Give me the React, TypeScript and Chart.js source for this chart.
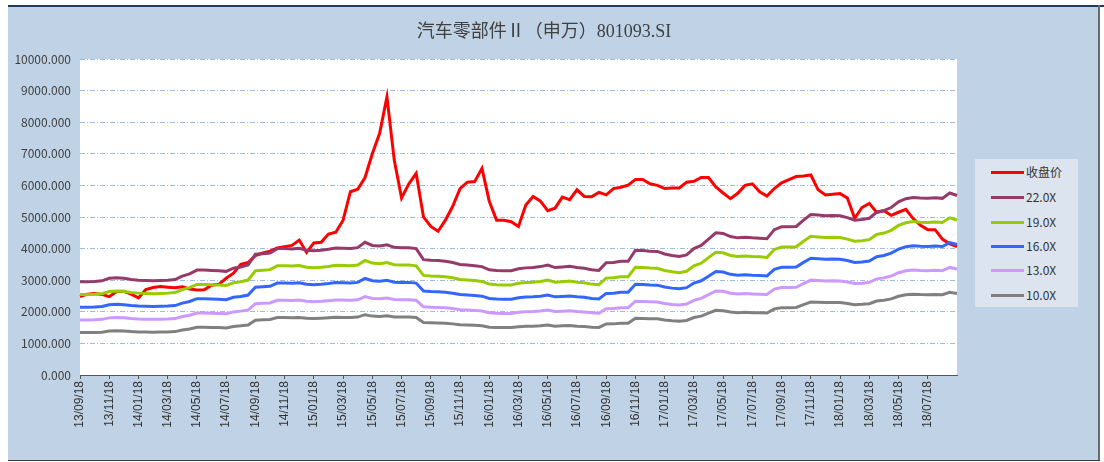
import React, { useEffect, useRef } from 'react';
import { Chart, registerables } from 'chart.js';

Chart.register(...registerables);

const tickLabels = [
  '13/09/18', '13/11/18', '14/01/18', '14/03/18', '14/05/18', '14/07/18', '14/09/18', '14/11/18',
  '15/01/18', '15/03/18', '15/05/18', '15/07/18', '15/09/18', '15/11/18', '16/01/18', '16/03/18',
  '16/05/18', '16/07/18', '16/09/18', '16/11/18', '17/01/18', '17/03/18', '17/05/18', '17/07/18',
  '17/09/18', '17/11/18', '18/01/18', '18/03/18', '18/05/18', '18/07/18',
];

// semi-monthly observation dates from 2013-09-18
const categories: string[] = Array.from({ length: 121 }, (_, i) => {
  const base = 2013 * 12 + 8;
  const mIdx = i % 2 === 0 ? base + i / 2 : base + (i + 1) / 2;
  const y = Math.floor(mIdx / 12) % 100;
  const m = (mIdx % 12) + 1;
  const d = i % 2 === 0 ? '18' : '03';
  return `${String(y).padStart(2, '0')}/${String(m).padStart(2, '0')}/${d}`;
});

const seriesNames = ['收盘价', '22.0X', '19.0X', '16.0X', '13.0X', '10.0X'];
const seriesColors = ['#FF0000', '#953A69', '#99CC00', '#3366FF', '#CC99FF', '#808080'];

const closePrice = [
  2480, 2560, 2580, 2550, 2480, 2640, 2650, 2560, 2440, 2700,
  2770, 2800, 2780, 2760, 2790, 2720, 2690, 2700, 2840, 2870,
  3060, 3220, 3500, 3560, 3780, 3860, 3920, 4020, 4060, 4100,
  4270, 3880, 4180, 4200, 4460, 4520, 4900, 5800, 5880, 6250,
  7000, 7650, 8800, 6800, 5600, 6050, 6380, 5000, 4700, 4550,
  4900, 5340, 5900, 6100, 6120, 6540, 5500, 4900, 4900, 4850,
  4700, 5380, 5650, 5500, 5200, 5280, 5630, 5550, 5860, 5650,
  5640, 5780, 5700, 5900, 5940, 6010, 6190, 6190, 6050, 6000,
  5900, 5920, 5920, 6100, 6130, 6250, 6250, 5950, 5760, 5580,
  5750, 6000, 6050, 5800, 5660, 5900, 6080, 6180, 6280, 6300,
  6330, 5860, 5700, 5720, 5740, 5600, 4960, 5300, 5430, 5150,
  5200, 5050, 5150, 5240, 4950, 4740, 4600, 4600, 4300, 4150,
  4060,
];

const pe22 = [
  2950, 2950, 2960, 2980, 3060, 3080, 3060, 3020, 3000, 2990,
  2980, 2990, 3000, 3020, 3130, 3200, 3320, 3320, 3310, 3300,
  3280, 3380, 3420, 3480, 3820, 3840, 3860, 4000, 4000, 3990,
  4010, 3950, 3930, 3950, 3980, 4020, 4010, 4000, 4030, 4200,
  4100, 4080, 4120, 4040, 4030, 4030, 4000, 3650, 3630, 3620,
  3600, 3560, 3500, 3480, 3460, 3430, 3330, 3310, 3300, 3300,
  3360, 3390, 3400, 3430, 3480, 3400, 3420, 3440, 3400, 3380,
  3330, 3310, 3550, 3560, 3600, 3600, 3950, 3940, 3920, 3910,
  3830, 3780, 3750, 3800, 4000, 4100, 4300, 4500, 4480, 4380,
  4340, 4360, 4340, 4330, 4310, 4600, 4690, 4690, 4700, 4900,
  5080, 5060, 5040, 5050, 5040, 4980, 4900, 4920, 4960, 5150,
  5200, 5300, 5480, 5580, 5620, 5600, 5590, 5610, 5590, 5760,
  5680,
];

const pe19 = [
  2548, 2548, 2556, 2574, 2643, 2660, 2643, 2608, 2591, 2582,
  2574, 2582, 2591, 2608, 2703, 2764, 2867, 2867, 2859, 2850,
  2833, 2919, 2954, 3005, 3299, 3316, 3334, 3455, 3455, 3446,
  3463, 3411, 3394, 3411, 3437, 3472, 3463, 3455, 3480, 3627,
  3541, 3524, 3558, 3489, 3480, 3480, 3455, 3152, 3135, 3126,
  3109, 3075, 3023, 3005, 2988, 2962, 2876, 2859, 2850, 2850,
  2902, 2928, 2936, 2962, 3005, 2936, 2954, 2971, 2936, 2919,
  2876, 2859, 3066, 3075, 3109, 3109, 3411, 3403, 3385, 3377,
  3308, 3265, 3239, 3282, 3455, 3541, 3714, 3886, 3869, 3783,
  3748, 3765, 3748, 3740, 3722, 3973, 4050, 4050, 4059, 4232,
  4387, 4370, 4353, 4361, 4353, 4301, 4232, 4249, 4284, 4448,
  4491, 4577, 4733, 4819, 4854, 4836, 4828, 4845, 4828, 4975,
  4905,
];

const pe16 = [
  2145, 2145, 2153, 2167, 2225, 2240, 2225, 2196, 2182, 2175,
  2167, 2175, 2182, 2196, 2276, 2327, 2415, 2415, 2407, 2400,
  2385, 2458, 2487, 2531, 2778, 2793, 2807, 2909, 2909, 2902,
  2916, 2873, 2858, 2873, 2895, 2924, 2916, 2909, 2931, 3055,
  2982, 2967, 2996, 2938, 2931, 2931, 2909, 2655, 2640, 2633,
  2618, 2589, 2545, 2531, 2516, 2495, 2422, 2407, 2400, 2400,
  2444, 2465, 2473, 2495, 2531, 2473, 2487, 2502, 2473, 2458,
  2422, 2407, 2582, 2589, 2618, 2618, 2873, 2865, 2851, 2844,
  2785, 2749, 2727, 2764, 2909, 2982, 3127, 3273, 3258, 3185,
  3156, 3171, 3156, 3149, 3135, 3345, 3411, 3411, 3418, 3564,
  3695, 3680, 3665, 3673, 3665, 3622, 3564, 3578, 3607, 3745,
  3782, 3855, 3985, 4058, 4087, 4073, 4065, 4080, 4065, 4189,
  4131,
];

const pe13 = [
  1743, 1743, 1749, 1761, 1808, 1820, 1808, 1785, 1773, 1767,
  1761, 1767, 1773, 1785, 1850, 1891, 1962, 1962, 1956, 1950,
  1938, 1997, 2021, 2056, 2257, 2269, 2281, 2364, 2364, 2358,
  2370, 2334, 2322, 2334, 2352, 2375, 2370, 2364, 2381, 2482,
  2423, 2411, 2435, 2387, 2381, 2381, 2364, 2157, 2145, 2139,
  2127, 2104, 2068, 2056, 2045, 2027, 1968, 1956, 1950, 1950,
  1985, 2003, 2009, 2027, 2056, 2009, 2021, 2033, 2009, 1997,
  1968, 1956, 2098, 2104, 2127, 2127, 2334, 2328, 2316, 2310,
  2263, 2234, 2216, 2245, 2364, 2423, 2541, 2659, 2647, 2588,
  2565, 2576, 2565, 2559, 2547, 2718, 2771, 2771, 2777, 2895,
  3002, 2990, 2978, 2984, 2978, 2943, 2895, 2907, 2931, 3043,
  3073, 3132, 3238, 3297, 3321, 3309, 3303, 3315, 3303, 3404,
  3356,
];

const pe10 = [
  1341, 1341, 1345, 1355, 1391, 1400, 1391, 1373, 1364, 1359,
  1355, 1359, 1364, 1373, 1423, 1455, 1509, 1509, 1505, 1500,
  1491, 1536, 1555, 1582, 1736, 1745, 1755, 1818, 1818, 1814,
  1823, 1795, 1786, 1795, 1809, 1827, 1823, 1818, 1832, 1909,
  1864, 1855, 1873, 1836, 1832, 1832, 1818, 1659, 1650, 1645,
  1636, 1618, 1591, 1582, 1573, 1559, 1514, 1505, 1500, 1500,
  1527, 1541, 1545, 1559, 1582, 1545, 1555, 1564, 1545, 1536,
  1514, 1505, 1614, 1618, 1636, 1636, 1795, 1791, 1782, 1777,
  1741, 1718, 1705, 1727, 1818, 1864, 1955, 2045, 2036, 1991,
  1973, 1982, 1973, 1968, 1959, 2091, 2132, 2132, 2136, 2227,
  2309, 2300, 2291, 2295, 2291, 2264, 2227, 2236, 2255, 2341,
  2364, 2409, 2491, 2536, 2555, 2545, 2541, 2550, 2541, 2618,
  2582,
];

const yTicks = [0, 1000, 2000, 3000, 4000, 5000, 6000, 7000, 8000, 9000, 10000];

const allSeries = [closePrice, pe22, pe19, pe16, pe13, pe10];

const CJK = '"Noto Sans CJK SC", "Noto Sans", sans-serif';

const plotBackground = {
  id: 'plotBackground',
  beforeDraw(chart: any) {
    const { ctx, chartArea } = chart;
    if (!chartArea) return;
    ctx.save();
    ctx.fillStyle = '#FFFFFF';
    ctx.fillRect(chartArea.left, chartArea.top, chartArea.right - chartArea.left, chartArea.bottom - chartArea.top);
    ctx.restore();
  },
};

export default function App() {
  const ref = useRef<HTMLCanvasElement>(null);

  useEffect(() => {
    if (!ref.current) return;
    const isTick = (i: number) => i % 4 === 0 && i / 4 < tickLabels.length;
    const chart = new Chart(ref.current, {
      type: 'line',
      data: {
        labels: categories,
        datasets: allSeries.map((d, k) => ({
          label: seriesNames[k],
          data: d,
          borderColor: seriesColors[k],
          backgroundColor: seriesColors[k],
          borderWidth: 3,
          pointRadius: 0,
          tension: 0,
          fill: false,
          order: k === 0 ? 1 : 0,
        })),
      },
      plugins: [plotBackground],
      options: {
        animation: false,
        responsive: false,
        maintainAspectRatio: false,
        layout: { padding: { left: 0, top: 54, right: 143, bottom: 0 } },
        plugins: {
          legend: { display: false },
          title: { display: false },
          tooltip: { enabled: false },
        },
        scales: {
          x: {
            type: 'category',
            offset: false,
            grid: {
              display: true,
              drawOnChartArea: false,
              drawTicks: true,
              tickLength: 4,
              tickColor: (ctx: any) => (isTick(ctx.index) ? '#555555' : 'rgba(0,0,0,0)'),
            },
            border: { display: true, color: '#555555', width: 1 },
            ticks: {
              autoSkip: false,
              maxRotation: 90,
              minRotation: 90,
              padding: 2,
              color: '#333333',
              font: { family: '"Liberation Sans", Arial, sans-serif', size: 12 },
              callback: (_v: any, i: number) => (isTick(i) ? tickLabels[i / 4] : ''),
            },
            afterFit: (s: any) => {
              s.height = 86;
            },
          },
          y: {
            min: yTicks[0],
            max: yTicks[yTicks.length - 1],
            afterBuildTicks: (s: any) => {
              s.ticks = yTicks.map((v) => ({ value: v }));
            },
            grid: { color: '#9FBBE0', lineWidth: 1, drawTicks: false },
            border: { display: false, dash: [5, 2, 1, 2] },
            ticks: {
              padding: 9,
              color: '#404040',
              font: { family: CJK, size: 12 },
              callback: (v: any) => Number(v).toFixed(3),
            },
            afterFit: (s: any) => {
              s.width = 72;
            },
          },
        },
      },
    } as any);
    return () => chart.destroy();
  }, []);

  const legendRowTop = [13, 38, 63, 87, 111, 136];

  return (
    <div
      style={{
        position: 'absolute',
        left: 8,
        top: 5,
        width: 1092,
        height: 456,
        background: '#C0D3E6',
        overflow: 'visible',
      }}
    >
      <canvas
        ref={ref}
        width={1092}
        height={456}
        style={{ position: 'absolute', left: 0, top: 0, display: 'block', width: 1092, height: 456 }}
      />
      <div
        style={{
          position: 'absolute',
          left: 0,
          top: 14,
          width: 1072,
          textAlign: 'center',
          fontFamily: '"Liberation Serif", "Noto Sans CJK SC", serif',
          fontSize: 18,
          lineHeight: '24px',
          color: '#404040',
          whiteSpace: 'nowrap',
        }}
      >
        汽车零部件Ⅱ（申万）801093.SI
      </div>
      <div
        style={{
          position: 'absolute',
          left: 967,
          top: 154,
          width: 103,
          height: 148,
          background: '#DCE5EF',
        }}
      >
        {seriesNames.map((n, k) => (
          <div key={n} style={{ position: 'absolute', left: 0, top: legendRowTop[k] - 9, height: 18, width: 103 }}>
            <div
              style={{
                position: 'absolute',
                left: 16,
                top: 8,
                width: 33,
                height: 3,
                background: seriesColors[k],
              }}
            />
            <div
              style={{
                position: 'absolute',
                left: 51,
                top: 0,
                lineHeight: '18px',
                fontFamily: CJK,
                fontSize: 12,
                color: '#333333',
                whiteSpace: 'nowrap',
              }}
            >
              {n}
            </div>
          </div>
        ))}
      </div>
      <div style={{ position: 'absolute', left: 0, top: 0, width: 1096, height: 2, background: '#1E3A5C' }} />
      <div style={{ position: 'absolute', left: 1090, top: 0, width: 2, height: 456, background: '#6B6B6B' }} />
      <div style={{ position: 'absolute', left: 0, top: 455, width: 1092, height: 1, background: '#3A3A3A' }} />
    </div>
  );
}
